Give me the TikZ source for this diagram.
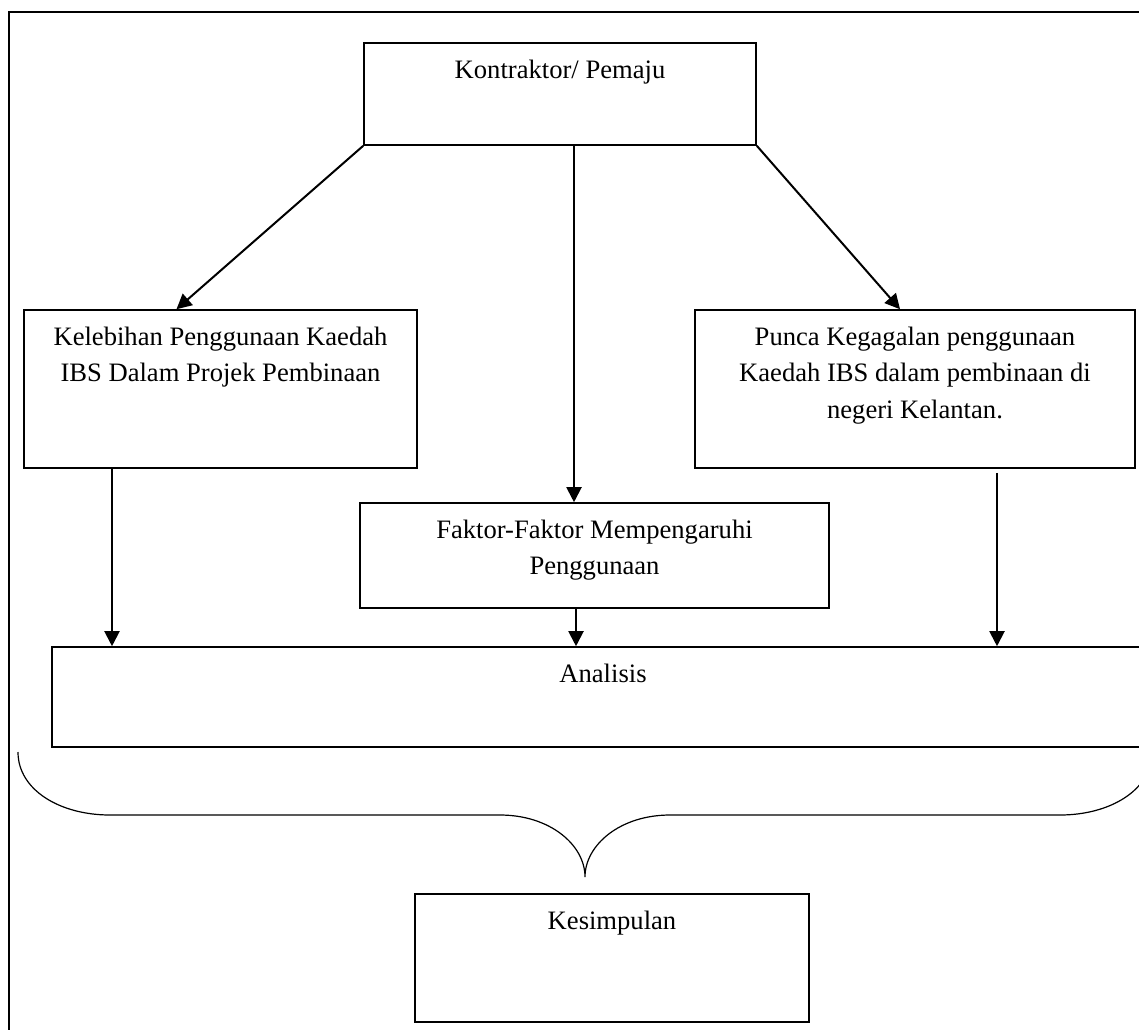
\documentclass[tikz,border=0pt]{standalone}
\usepackage{fontspec}
\setmainfont{Liberation Serif}
\usetikzlibrary{arrows.meta}

\begin{document}
\begin{tikzpicture}[
  x=0.5pt, y=-0.5pt,
  box/.style={draw, line width=0.8pt, inner sep=0pt},
  lbl/.style={anchor=north, yshift=-8.5pt, inner sep=0pt, align=center,
              font=\fontsize{13.3}{18.4}\selectfont},
  arr/.style={-{Triangle[length=7.5pt, width=7.5pt]}, line width=1pt}
]
  \path[use as bounding box, clip] (0,0) rectangle (1139,1029);
  % outer frame
  \draw[line width=0.7pt] (9,1060) -- (9,12) -- (1170,12);

  \node[box, minimum width=196pt, minimum height=51pt,
        label={[lbl]north:Kontraktor/ Pemaju}] (pemaju) at (560,94) {};
  \node[box, minimum width=196.5pt, minimum height=79pt,
        label={[lbl]north:Kelebihan Penggunaan Kaedah\\IBS Dalam Projek Pembinaan}] (kelebihan) at (220.5,389) {};
  \node[box, minimum width=220pt, minimum height=79pt,
        label={[lbl]north:Punca Kegagalan penggunaan\\Kaedah IBS dalam pembinaan di\\negeri Kelantan.}] (punca) at (915,389) {};
  \node[box, minimum width=234.5pt, minimum height=52.5pt,
        label={[lbl]north:Faktor-Faktor Mempengaruhi\\Penggunaan}] (faktor) at (594.5,555.5) {};
  \node[box, minimum width=551pt, minimum height=50pt,
        label={[lbl]north:Analisis}] (analisis) at (603,697) {};
  \node[box, minimum width=197pt, minimum height=64pt,
        label={[lbl]north:Kesimpulan}] (kesimpulan) at (612,958) {};

  \draw[arr] (pemaju.south west) -- ([xshift=-22pt]kelebihan.north);
  \draw[arr] ([xshift=7pt]pemaju.south) -- ([xshift=7pt]pemaju.south |- faktor.north);
  \draw[arr] (pemaju.south east) -- ([xshift=-7.5pt]punca.north);

  \draw[arr] ([xshift=-54.25pt]kelebihan.south) -- ([xshift=-54.25pt]kelebihan.south |- analisis.north);
  \draw[arr] ([xshift=-9.25pt]faktor.south) -- ([xshift=-9.25pt]faktor.south |- analisis.north);
  \draw[arr] ([xshift=41pt, yshift=-2pt]punca.south) -- ([xshift=41pt]punca.south |- analisis.north);

  % brace
  \draw[line width=0.6pt] (18,752) .. controls (18,790) and (60,815) .. (110,815)
    -- (500,815) .. controls (550,815) and (585,845) .. (585,877)
    .. controls (585,845) and (620,815) .. (670,815)
    -- (1060,815) .. controls (1110,815) and (1152,790) .. (1152,752);
\end{tikzpicture}
\end{document}
